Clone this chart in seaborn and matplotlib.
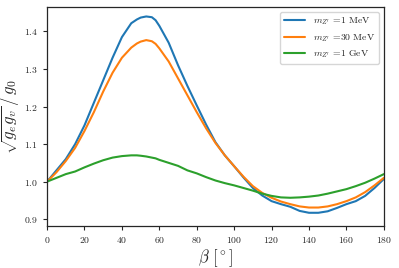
import numpy as np
import pandas as pd
import matplotlib
matplotlib.use("Agg")
import matplotlib.pyplot as plt
import seaborn as sns

beta = [0, 5, 10, 15, 20, 25, 30, 35, 40, 45, 48, 50, 53, 56, 58, 60, 65, 70, 75, 80, 85, 90, 95,
        100, 105, 110, 115, 120, 125, 130, 135, 140, 145, 150, 155, 160, 165, 170, 175, 180]
blue = [1.0, 1.03, 1.06, 1.10, 1.15, 1.21, 1.27, 1.33, 1.385, 1.422, 1.432, 1.437, 1.44, 1.438, 1.43,
        1.415, 1.37, 1.31, 1.255, 1.203, 1.152, 1.105, 1.07, 1.041, 1.011, 0.983, 0.963, 0.948, 0.94,
        0.933, 0.922, 0.917, 0.917, 0.921, 0.93, 0.94, 0.948, 0.962, 0.983, 1.007]
orange = [1.0, 1.025, 1.055, 1.09, 1.135, 1.185, 1.24, 1.29, 1.33, 1.357, 1.368, 1.373, 1.377, 1.374,
          1.367, 1.355, 1.32, 1.275, 1.23, 1.185, 1.142, 1.103, 1.07, 1.041, 1.013, 0.988, 0.97, 0.957,
          0.947, 0.94, 0.934, 0.931, 0.931, 0.934, 0.94, 0.948, 0.958, 0.972, 0.99, 1.01]
green = [1.0, 1.01, 1.02, 1.027, 1.038, 1.048, 1.057, 1.064, 1.068, 1.07, 1.07, 1.069, 1.067, 1.064,
         1.062, 1.058, 1.05, 1.042, 1.03, 1.022, 1.012, 1.003, 0.996, 0.99, 0.983, 0.976, 0.968,
         0.962, 0.958, 0.957, 0.958, 0.96, 0.963, 0.968, 0.974, 0.98, 0.988, 0.997, 1.008, 1.02]
labels = [r"$m_{Z'}$ =1 MeV", r"$m_{Z'}$ =30 MeV", r"$m_{Z'}$ =1 GeV"]

sns.set_style("ticks")
plt.rcParams["font.family"] = ["serif"]
plt.rcParams["font.serif"] = ["cmr10", "DejaVu Serif"]
plt.rcParams["mathtext.fontset"] = "cm"
plt.rcParams["axes.formatter.use_mathtext"] = True

df = pd.DataFrame({
    "beta": beta * 3,
    "val": blue + orange + green,
    "series": [labels[0]] * len(beta) + [labels[1]] * len(beta) + [labels[2]] * len(beta),
})

fig, ax = plt.subplots(figsize=(3.99, 2.68), dpi=100)
fig.subplots_adjust(left=0.118, right=0.962, top=0.975, bottom=0.157)
sns.lineplot(data=df, x="beta", y="val", hue="series", hue_order=labels,
             palette=["#1f77b4", "#ff7f0e", "#2ca02c"], linewidth=1.5, ax=ax)
ax.set_xlim(0, 180)
ax.set_ylim(0.882, 1.466)
ax.set_xticks(range(0, 181, 20))
ax.set_yticks([0.9, 1.0, 1.1, 1.2, 1.3, 1.4])
ax.tick_params(labelsize=7, length=3, width=0.8)
for s in ax.spines.values():
    s.set_linewidth(0.9)
ax.set_xlabel(r"$\beta\ [^\circ]$", fontsize=12, labelpad=2)
ax.set_ylabel(r"$\sqrt{g_e g_v}\,/\,g_0$", fontsize=12, labelpad=2)
ax.legend(title=None, fontsize=7, loc="upper right", frameon=True, handlelength=2.2)
fig.savefig("out.png", dpi=100)
